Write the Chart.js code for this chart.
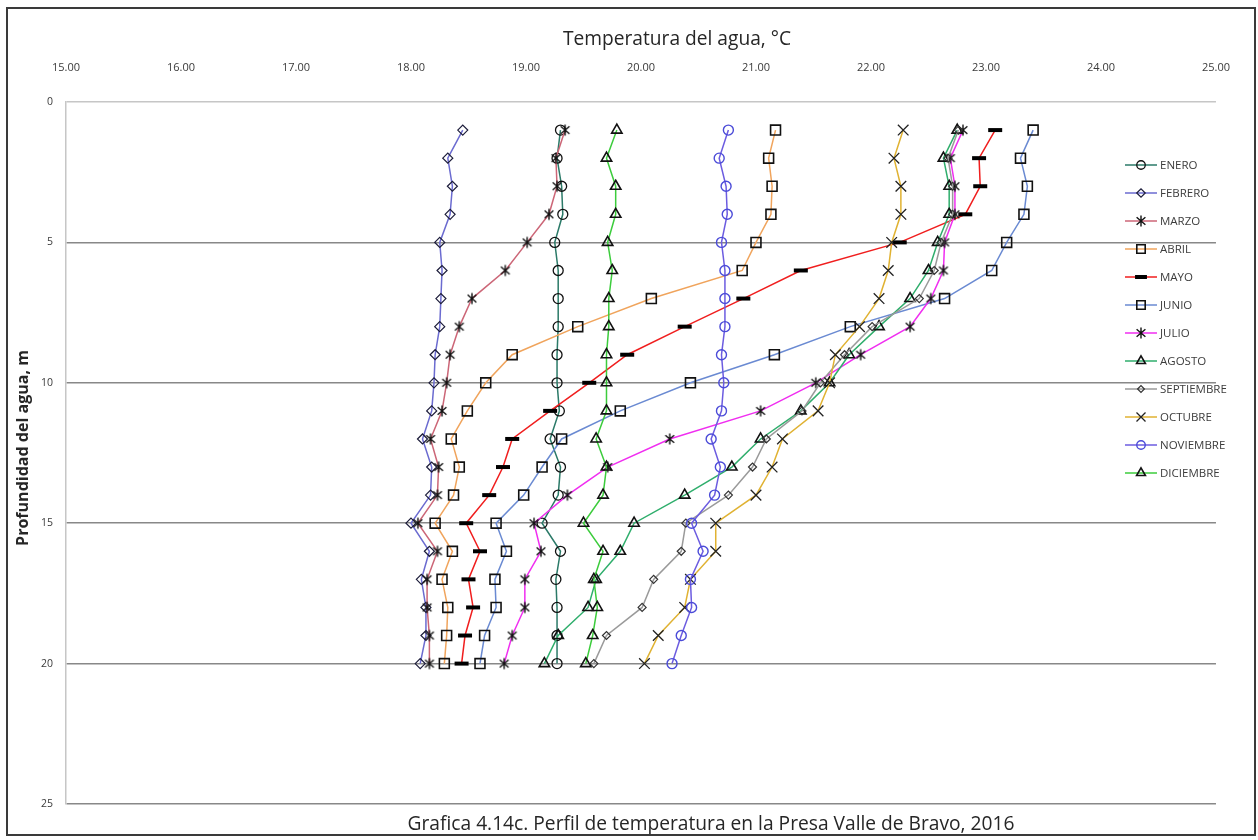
<!DOCTYPE html>
<html>
<head>
<meta charset="utf-8">
<title>Perfil de temperatura, Presa Valle de Bravo 2016</title>
<script src="https://cdn.jsdelivr.net/npm/chart.js@4.4.1/dist/chart.umd.min.js"></script>
<style>
  html, body { margin: 0; padding: 0; background: #ffffff; }
  canvas { display: block; }
</style>
</head>
<body>
<canvas id="perfil" width="1258" height="840"></canvas>
<script>
// Profundidad de cada lectura (m)
const depths = [1, 2, 3, 4, 5, 6, 7, 8, 9, 10, 11, 12, 13, 14, 15, 16, 17, 18, 19, 20];

// Temperatura del agua (°C) por mes, de 1 a 20 m
const ENERO      = [19.30, 19.27, 19.31, 19.32, 19.25, 19.28, 19.28, 19.28, 19.27, 19.27, 19.29, 19.21, 19.30, 19.28, 19.14, 19.30, 19.26, 19.27, 19.27, 19.27];
const FEBRERO    = [18.45, 18.32, 18.36, 18.34, 18.25, 18.27, 18.26, 18.25, 18.21, 18.20, 18.18, 18.10, 18.18, 18.17, 18.00, 18.16, 18.09, 18.13, 18.13, 18.08];
const MARZO      = [19.34, 19.26, 19.27, 19.20, 19.01, 18.82, 18.53, 18.42, 18.34, 18.31, 18.27, 18.17, 18.24, 18.23, 18.06, 18.23, 18.14, 18.14, 18.16, 18.16];
const ABRIL      = [21.17, 21.11, 21.14, 21.13, 21.00, 20.88, 20.09, 19.45, 18.88, 18.65, 18.49, 18.35, 18.42, 18.37, 18.21, 18.36, 18.27, 18.32, 18.31, 18.29];
const MAYO       = [23.08, 22.94, 22.95, 22.82, 22.25, 21.39, 20.89, 20.38, 19.88, 19.55, 19.21, 18.88, 18.80, 18.68, 18.48, 18.60, 18.50, 18.54, 18.47, 18.44];
const JUNIO      = [23.41, 23.30, 23.36, 23.33, 23.18, 23.05, 22.64, 21.82, 21.16, 20.43, 19.82, 19.31, 19.14, 18.98, 18.74, 18.83, 18.73, 18.74, 18.64, 18.60];
const JULIO      = [22.80, 22.69, 22.73, 22.73, 22.64, 22.63, 22.52, 22.34, 21.91, 21.52, 21.04, 20.25, 19.71, 19.36, 19.07, 19.13, 18.99, 18.99, 18.88, 18.81];
const AGOSTO     = [22.75, 22.63, 22.68, 22.68, 22.58, 22.50, 22.34, 22.07, 21.81, 21.64, 21.39, 21.04, 20.79, 20.38, 19.94, 19.82, 19.61, 19.54, 19.28, 19.16];
const SEPTIEMBRE = [22.76, 22.67, 22.71, 22.71, 22.61, 22.55, 22.42, 22.01, 21.77, 21.56, 21.40, 21.09, 20.97, 20.76, 20.39, 20.35, 20.11, 20.01, 19.70, 19.59];
const OCTUBRE    = [22.28, 22.20, 22.26, 22.26, 22.18, 22.15, 22.07, 21.90, 21.69, 21.64, 21.54, 21.23, 21.14, 21.00, 20.65, 20.65, 20.43, 20.38, 20.15, 20.03];
const NOVIEMBRE  = [20.76, 20.68, 20.74, 20.75, 20.70, 20.73, 20.73, 20.73, 20.70, 20.72, 20.70, 20.61, 20.69, 20.64, 20.44, 20.54, 20.43, 20.44, 20.35, 20.27];
const DICIEMBRE  = [19.79, 19.70, 19.78, 19.78, 19.71, 19.75, 19.72, 19.72, 19.70, 19.70, 19.70, 19.61, 19.70, 19.67, 19.50, 19.67, 19.59, 19.62, 19.58, 19.52];

const monthNames = ['ENERO', 'FEBRERO', 'MARZO', 'ABRIL', 'MAYO', 'JUNIO', 'JULIO', 'AGOSTO', 'SEPTIEMBRE', 'OCTUBRE', 'NOVIEMBRE', 'DICIEMBRE'];
const monthValues = [ENERO, FEBRERO, MARZO, ABRIL, MAYO, JUNIO, JULIO, AGOSTO, SEPTIEMBRE, OCTUBRE, NOVIEMBRE, DICIEMBRE];

// Marcas de los ejes
const tempTicks = [15, 16, 17, 18, 19, 20, 21, 22, 23, 24, 25];
const depthTicks = [0, 5, 10, 15, 20, 25];

// Textos
const xTitle = 'Temperatura del agua, °C';
const yTitle = 'Profundidad del agua, m';
const caption = 'Grafica 4.14c. Perfil de temperatura en la Presa Valle de Bravo, 2016';

const FONT = "'Open Sans', 'DejaVu Sans', sans-serif";

// Asterisco de seis brazos (línea vertical + aspa)
function makeAsterisk() {
  const c = document.createElement('canvas');
  c.width = 14; c.height = 14;
  const g = c.getContext('2d');
  g.strokeStyle = '#111';
  g.lineWidth = 1.4;
  g.lineCap = 'butt';
  g.beginPath();
  g.moveTo(7, 1.5); g.lineTo(7, 12.5);
  g.moveTo(2.6, 3.2); g.lineTo(11.4, 10.8);
  g.moveTo(11.4, 3.2); g.lineTo(2.6, 10.8);
  g.stroke();
  return c;
}
const asterisk = makeAsterisk();

// Estilo de línea y marcador de cada mes
const lineColors = ['#2b7a68', '#6b6bd0', '#cc6677', '#f0a45c', '#f01e1e', '#6a8ad2', '#f02ef0', '#2fae6c', '#9a9a9a', '#e0b232', '#6c5ce0', '#3ccc3c'];
const markers = [
  { style: 'circle',    r: 5,   bw: 1.3, color: '#111' },
  { style: 'rectRot',   r: 5,   bw: 1.2, color: '#1c1c3a' },
  { style: asterisk,    r: 6,   bw: 0,   color: '#111' },
  { style: 'rect',      r: 7,   bw: 1.6, color: '#111' },
  { style: 'line',      r: 7,   bw: 4,   color: '#000' },
  { style: 'rect',      r: 7,   bw: 1.6, color: '#111' },
  { style: asterisk,    r: 6,   bw: 0,   color: '#111' },
  { style: 'triangle',  r: 6,   bw: 1.6, color: '#111' },
  { style: 'rectRot',   r: 4,   bw: 1.2, color: '#333' },
  { style: 'crossRot',  r: 7.5, bw: 1.3, color: '#222' },
  { style: 'circle',    r: 5,   bw: 1.4, color: '#4b4bd8' },
  { style: 'triangle',  r: 6,   bw: 1.6, color: '#111' }
];

const datasets = monthNames.map((name, i) => ({
  label: name,
  data: depths.map((d, k) => ({ x: monthValues[i][k], y: d })),
  showLine: true,
  tension: 0,
  borderColor: lineColors[i],
  borderWidth: 1.5,
  pointStyle: markers[i].style,
  pointRadius: markers[i].r,
  pointHoverRadius: markers[i].r,
  pointBorderColor: markers[i].color,
  pointBorderWidth: markers[i].bw,
  pointBackgroundColor: 'rgba(0,0,0,0)',
  order: monthNames.length - i
}));

function fitSize(ctx, text, width, weight) {
  ctx.font = weight + ' 100px ' + FONT;
  return 100 * width / ctx.measureText(text).width;
}

// Fondo, marco, títulos y leyenda dibujados sobre el lienzo
const decorations = {
  id: 'decorations',
  beforeDraw(chart) {
    const ctx = chart.ctx;
    ctx.save();
    ctx.fillStyle = '#ffffff';
    ctx.fillRect(0, 0, chart.width, chart.height);
    ctx.restore();
  },
  afterDraw(chart) {
    const ctx = chart.ctx;
    ctx.save();

    // título del eje de temperatura
    ctx.fillStyle = '#262626';
    ctx.textAlign = 'center';
    ctx.textBaseline = 'middle';
    ctx.font = '400 ' + fitSize(ctx, xTitle, 228, '400').toFixed(2) + 'px ' + FONT;
    ctx.fillText(xTitle, 677, 40);

    // título del eje de profundidad
    ctx.save();
    ctx.translate(23, 448);
    ctx.rotate(-Math.PI / 2);
    ctx.font = '700 ' + fitSize(ctx, yTitle, 196, '700').toFixed(2) + 'px ' + FONT;
    ctx.fillText(yTitle, 0, 0);
    ctx.restore();

    // pie de la gráfica
    ctx.font = '400 ' + fitSize(ctx, caption, 607, '400').toFixed(2) + 'px ' + FONT;
    ctx.fillText(caption, 711, 825);

    // leyenda
    const helpers = Chart.helpers;
    chart.data.datasets.forEach((ds, i) => {
      const y = 165 + 28 * i;
      ctx.strokeStyle = ds.borderColor;
      ctx.lineWidth = 1.5;
      ctx.beginPath();
      ctx.moveTo(1125, y);
      ctx.lineTo(1157, y);
      ctx.stroke();
      ctx.strokeStyle = ds.pointBorderColor;
      ctx.fillStyle = 'rgba(0,0,0,0)';
      ctx.lineWidth = ds.pointBorderWidth;
      helpers.drawPoint(ctx, {
        pointStyle: ds.pointStyle,
        radius: ds.pointRadius * 0.85,
        borderWidth: ds.pointBorderWidth,
        rotation: 0
      }, 1141, y);
      ctx.fillStyle = '#3c3c3c';
      ctx.textAlign = 'left';
      ctx.textBaseline = 'middle';
      ctx.font = '400 11.5px ' + FONT;
      ctx.fillText(ds.label, 1160, y + 1);
    });

    // marco exterior
    ctx.strokeStyle = '#3a3a3a';
    ctx.lineWidth = 2;
    ctx.strokeRect(7, 8, 1248, 827);
    ctx.restore();
  }
};

new Chart(document.getElementById('perfil'), {
  type: 'scatter',
  data: { datasets },
  options: {
    responsive: false,
    animation: false,
    devicePixelRatio: 1,
    events: [],
    layout: { padding: { left: 0, right: 38, top: 0, bottom: 36 } },
    plugins: { legend: { display: false }, tooltip: { enabled: false }, title: { display: false } },
    scales: {
      x: {
        type: 'linear',
        position: 'top',
        min: 15,
        max: 25,
        afterBuildTicks: s => { s.ticks = tempTicks.map(v => ({ value: v })); },
        afterFit: s => { s.height = 102; },
        ticks: {
          callback: v => Number(v).toFixed(2),
          font: { family: FONT, size: 11 },
          color: '#3a3a3a',
          padding: 28,
          maxRotation: 0,
          autoSkip: false
        },
        grid: { display: false, drawTicks: false },
        border: { display: false }
      },
      y: {
        type: 'linear',
        reverse: true,
        min: 0,
        max: 25,
        afterBuildTicks: s => { s.ticks = depthTicks.map(v => ({ value: v })); },
        afterFit: s => { s.width = 66; },
        ticks: {
          font: { family: FONT, size: 10.5 },
          color: '#3a3a3a',
          padding: 13
        },
        grid: {
          drawTicks: false,
          color: c => (c.tick && c.tick.value === 0) ? '#c6c6c6' : '#888888',
          lineWidth: 1.5
        },
        border: { display: true, color: '#c6c6c6', width: 1.5 }
      }
    }
  },
  plugins: [decorations]
});
</script>
</body>
</html>
